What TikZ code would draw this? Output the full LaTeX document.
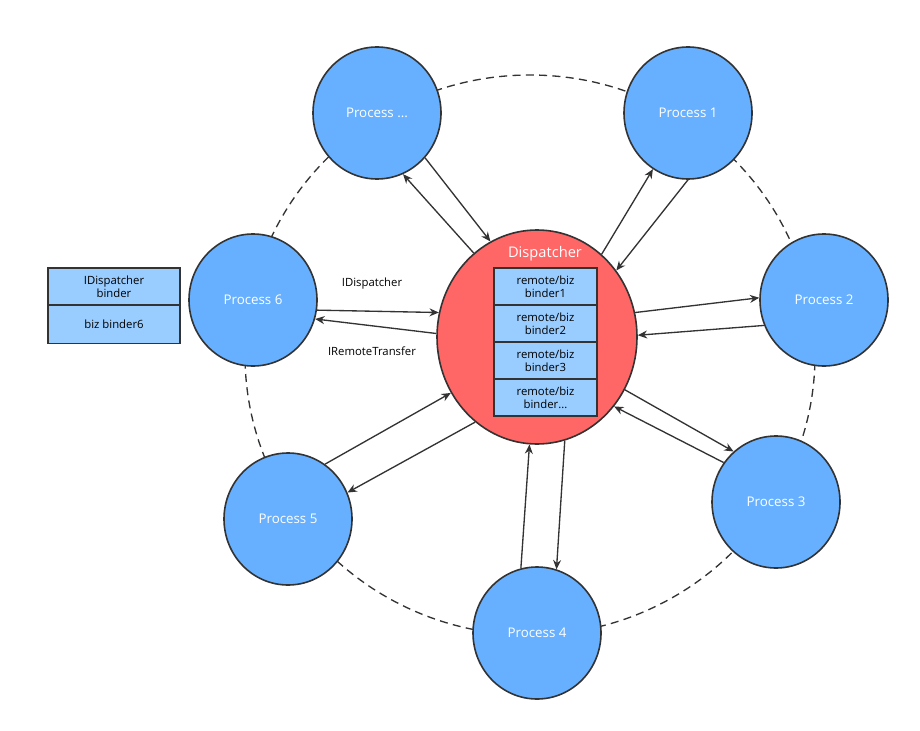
\documentclass[tikz,border=0pt]{standalone}
\usepackage{fontspec}
\setmainfont{Open Sans}
\usetikzlibrary{arrows.meta,shapes.geometric}
\definecolor{pblue}{RGB}{102,176,255}
\definecolor{pred}{RGB}{255,102,102}
\definecolor{lblue}{RGB}{153,204,255}
\definecolor{dk}{RGB}{51,51,51}
\begin{document}
\begin{tikzpicture}[x=0.75pt,y=-0.75pt,
  proc/.style={ellipse,draw=dk,line width=1.2pt,fill=pblue,minimum width=128*0.75pt,minimum height=132*0.75pt,text=white,font=\fontsize{10}{12}\selectfont},
  arr/.style={-{Stealth[length=7pt,width=6pt]},draw=dk,line width=1pt},
  cell/.style={draw=dk,line width=1pt,fill=lblue,font=\fontsize{8.5}{9.5}\selectfont,align=center,inner sep=0pt},
  lbl/.style={font=\fontsize{8.5}{10}\selectfont}]
\useasboundingbox (0,0) rectangle (920,731);
\draw[dk,line width=1pt,dash pattern=on 6pt off 4pt] (530,355) ellipse [x radius=285*0.75pt,y radius=280*0.75pt];
\node[proc] (pd) at (377,113) {Process ...};
\node[proc] (p1) at (688,113) {Process 1};
\node[proc] (p2) at (824,300) {Process 2};
\node[proc] (p3) at (776,502) {Process 3};
\node[proc] (p4) at (537,633) {Process 4};
\node[proc] (p5) at (288,519) {Process 5};
\node[proc] (p6) at (253,300) {Process 6};
\node[ellipse,draw=dk,line width=1.2pt,fill=pred,minimum width=200*0.75pt,minimum height=214*0.75pt] (d) at (537,337) {};
\node[text=white,font=\fontsize{11}{13}\selectfont] (dl) at (545,254) {Dispatcher};
\node[cell,minimum width=103*0.75pt,minimum height=37*0.75pt] (c1) at (545.5,286.5) {remote/biz\\binder1};
\node[cell,minimum width=103*0.75pt,minimum height=37*0.75pt] (c2) at (545.5,323.5) {remote/biz\\binder2};
\node[cell,minimum width=103*0.75pt,minimum height=37*0.75pt] (c3) at (545.5,360.5) {remote/biz\\binder3};
\node[cell,minimum width=103*0.75pt,minimum height=37*0.75pt] (c4) at (545.5,397.5) {remote/biz\\binder...};
\node[cell,minimum width=132*0.75pt,minimum height=37*0.75pt] (b1) at (114,286.5) {IDispatcher\\binder};
\node[cell,minimum width=132*0.75pt,minimum height=38*0.75pt] (b2) at (114,324.5) {biz binder6};
\draw[arr] (d.127) -- (pd.-67);
\draw[arr] (pd.-43) -- (d.116);
\draw[arr] (d.52) -- (p1.-122);
\draw[arr] (p1.-90) -- (d.40);
\draw[arr] (d.14) -- (p2.178);
\draw[arr] (p2.-157) -- (d.1);
\draw[arr] (d.-31) -- (p3.130);
\draw[arr] (p3.143) -- (d.-42);
\draw[arr] (d.-75) -- (p4.73);
\draw[arr] (p4.104) -- (d.-94);
\draw[arr] (p5.56) -- (d.-147);
\draw[arr] (d.-126) -- (p5.24);
\draw[arr] (p6.-9) -- (d.166);
\draw[arr] (d.178) -- (p6.-17);
\node[lbl] (l1) at (372,284) {IDispatcher};
\node[lbl] (l2) at (372,351) {IRemoteTransfer};
\end{tikzpicture}
\end{document}
